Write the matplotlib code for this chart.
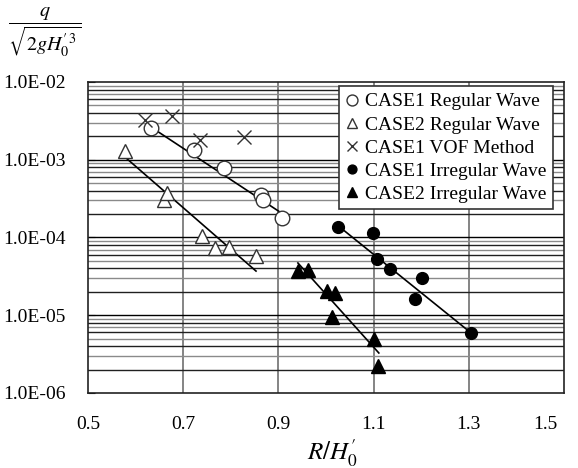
import numpy as np
import matplotlib
matplotlib.use("Agg")
import matplotlib.pyplot as plt
from matplotlib.ticker import FixedLocator, NullFormatter
import matplotlib.transforms as mtransforms

plt.rc('font', family='Liberation Serif', size=14)
plt.rc('mathtext', fontset='stix')

# --- data ---
case1_reg_x = [0.632, 0.723, 0.786, 0.863, 0.868, 0.908]
case1_reg_q = [2.56e-3, 1.33e-3, 7.8e-4, 3.5e-4, 3.0e-4, 1.78e-4]

case2_reg_x = [0.578, 0.660, 0.666, 0.740, 0.767, 0.796, 0.853]
case2_reg_q = [1.30e-3, 3.03e-4, 3.73e-4, 1.04e-4, 7.3e-5, 7.55e-5, 5.78e-5]

vof_x = [0.620, 0.676, 0.735, 0.828]
vof_q = [3.24e-3, 3.66e-3, 1.79e-3, 1.96e-3]

case1_irr_x = [1.025, 1.099, 1.107, 1.134, 1.202, 1.187, 1.305]
case1_irr_q = [1.36e-4, 1.14e-4, 5.28e-5, 3.93e-5, 3.01e-5, 1.62e-5, 5.9e-6]

case2_irr_x = [0.941, 0.962, 1.002, 1.019, 1.013, 1.101, 1.109]
case2_irr_q = [3.71e-5, 3.8e-5, 2.05e-5, 1.93e-5, 9.5e-6, 4.94e-6, 2.22e-6]

# trend lines (end points)
fit1_reg_x = [0.632, 0.903]
fit1_reg_q = [2.64e-3, 2.13e-4]
fit2_reg_x = [0.578, 0.853]
fit2_reg_q = [1.08e-3, 3.7e-5]
fit1_irr_x = [1.029, 1.305]
fit1_irr_q = [1.36e-4, 5.9e-6]
fit2_irr_x = [0.941, 1.111]
fit2_irr_q = [4.7e-5, 3.27e-6]

xticks = [0.5, 0.7, 0.9, 1.1, 1.3, 1.5]
yticks = [1e-6, 1e-5, 1e-4, 1e-3, 1e-2]
ytick_labels = ['1.0E-06', '1.0E-05', '1.0E-04', '1.0E-03', '1.0E-02']

fig = plt.figure(figsize=(5.78, 4.68), dpi=100)
ax = fig.add_axes([0.1522, 0.1603, 0.8236, 0.6645])

ax.set_yscale('log')
ax.set_xlim(0.5, 1.5)
ax.set_ylim(1e-6, 1e-2)

# grid
for xv in xticks[1:-1]:
    ax.axvline(xv, color='#707070', lw=1.2, zorder=1)
for dec in [1e-6, 1e-5, 1e-4, 1e-3]:
    for m in range(2, 10):
        c = '#202020' if m % 2 == 0 else '#8a8a8a'
        ax.axhline(dec * m, color=c, lw=1.0, zorder=1)
for yv in yticks[1:-1]:
    ax.axhline(yv, color='black', lw=1.0, zorder=1)

# trend lines
for fx, fq in [(fit1_reg_x, fit1_reg_q), (fit2_reg_x, fit2_reg_q),
               (fit1_irr_x, fit1_irr_q), (fit2_irr_x, fit2_irr_q)]:
    ax.plot(fx, fq, color='black', lw=1.2, zorder=3)

ax.plot(case1_reg_x, case1_reg_q, 'o', ms=10.5, mfc='white', mec='#333333', mew=1.0,
        ls='none', zorder=4, label='CASE1 Regular Wave')
ax.plot(case2_reg_x, case2_reg_q, '^', ms=10, mfc='white', mec='#333333', mew=1.0,
        ls='none', zorder=4, label='CASE2 Regular Wave')
ax.plot(vof_x, vof_q, 'x', ms=10, mec='#333333', mew=1.0,
        ls='none', zorder=4, label='CASE1 VOF Method')
ax.plot(case1_irr_x, case1_irr_q, 'o', ms=8.5, color='black',
        ls='none', zorder=4, label='CASE1 Irregular Wave')
ax.plot(case2_irr_x, case2_irr_q, '^', ms=9.5, color='black',
        ls='none', zorder=4, label='CASE2 Irregular Wave')

# ticks
ax.xaxis.set_major_locator(FixedLocator(xticks))
ax.set_xticklabels(['0.5', '0.7', '0.9', '1.1', '1.3', '1.5'])
ax.tick_params(axis='x', length=0, pad=16.5, labelsize=14)
ax.yaxis.set_major_locator(FixedLocator(yticks))
ax.set_yticklabels(ytick_labels)
ax.yaxis.set_minor_formatter(NullFormatter())
ax.tick_params(axis='y', which='major', direction='in', length=5, pad=16, labelsize=14)
ax.tick_params(axis='y', which='minor', length=0)

lbl = ax.get_xticklabels()[-1]
lbl.set_transform(lbl.get_transform() +
                  mtransforms.ScaledTranslation(-0.19, 0, fig.dpi_scale_trans))

for sp in ax.spines.values():
    sp.set_linewidth(1.2)
    sp.set_color('#222222')

leg = ax.legend(loc='upper right', bbox_to_anchor=(0.977, 0.987), fontsize=14,
                frameon=True, fancybox=False, framealpha=1, edgecolor='#333333',
                handlelength=0.7, handletextpad=0.3, labelspacing=0.28,
                borderpad=0.35, borderaxespad=0, markerscale=0.75)
leg.get_frame().set_linewidth(1.2)
leg.set_zorder(6)

fig.text(0.575, 0.017, r'$R/H_0^{\prime}$', fontsize=18, ha='center', va='baseline')
fig.text(0.077, 0.93, r'$\dfrac{q}{\sqrt{2gH_0^{\prime\,3}}}$', fontsize=14.5,
         ha='center', va='center')

fig.savefig('out.png', dpi=100)
